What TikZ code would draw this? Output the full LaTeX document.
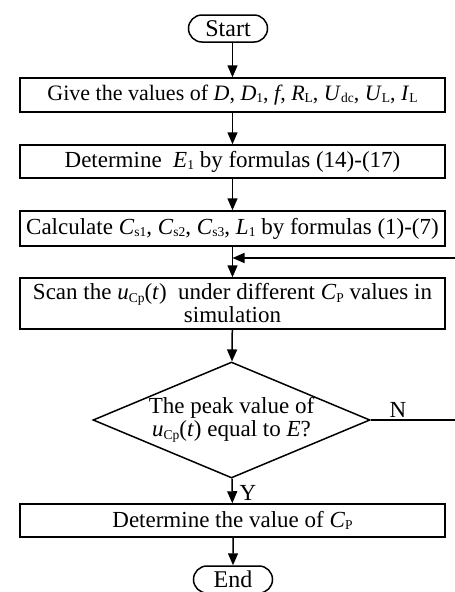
\documentclass[tikz,border=0pt]{standalone}
\usepackage{fontspec}
\setmainfont{Liberation Serif}
\usetikzlibrary{arrows.meta,shapes.misc,shapes.geometric}
\newcommand\sbs[1]{\raisebox{-0.25ex}{\fontsize{13.5}{14}\selectfont #1}}
\begin{document}
\begin{tikzpicture}[x=1pt,y=-1pt,
  every node/.style={font=\fontsize{23}{23}\selectfont},
  base/.style={draw, line width=1.5pt, inner sep=0pt, align=center},
  box/.style={base, rectangle, minimum width=425pt},
  term/.style={base, rounded rectangle, minimum width=79pt, minimum height=27pt, font=\fontsize{24}{24}\selectfont},
  decide/.style={base, diamond, shape aspect=2.4, minimum width=277pt, minimum height=116pt},
  flow/.style={line width=1.5pt, -{Triangle[length=12pt,width=10pt]}},
  lbl/.style={inner sep=0pt}]
\clip (0,0) rectangle (455,592);
\useasboundingbox (0,0) rectangle (455,592);
\node[term] (start) at (228,28.5) {Start};
\node[box, minimum height=34pt, font=\fontsize{22}{22}\selectfont] (b1) at (232.5,95) {Give the values of \textit{D}, \textit{D}\sbs{1}, \textit{f}, \textit{R}\sbs{L}, \textit{U}\sbs{dc}, \textit{U}\sbs{L}, \textit{I}\sbs{L}};
\node[box, minimum height=33pt] (b2) at (232.5,161.5) {Determine\ \ \textit{E}\sbs{1} by formulas (14)-(17)};
\node[box, minimum height=35pt] (b3) at (232.5,228.5) {Calculate \textit{C}\sbs{s1}, \textit{C}\sbs{s2}, \textit{C}\sbs{s3}, \textit{L}\sbs{1} by formulas (1)-(7)};
\node[box, minimum height=51pt] (b4) at (232.5,303.5) {Scan the \textit{u}\sbs{Cp}(\textit{t})\ \ under different \textit{C}\sbs{P} values in\\simulation};
\node[decide] (d) at (231.5,420) {The peak value of\\\textit{u}\sbs{Cp}(\textit{t}) equal to \textit{E}?};
\node[box, minimum height=33pt] (b5) at (232.5,520.5) {Determine the value of \textit{C}\sbs{P}};
\node[term] (end) at (233,579.5) {End};
\coordinate (fb) at (232.5,258);
\coordinate (c1) at (462,420);
\coordinate (c2) at (462,258);
\draw[flow] (start.south -| b1.north) -- (b1.north);
\draw[flow] (b1) -- (b2);
\draw[flow] (b2) -- (b3);
\draw[flow] (b3) -- (b4);
\draw[flow] (b4) -- (d);
\draw[flow] (d) -- (b5);
\draw[flow] (b5.south -| end.north) -- (end);
\draw[flow] (d.east) -- (c1) -- (c2) -- (fb);
\node[lbl] (n) at (398,410) {N};
\node[lbl] (y) at (248,493) {Y};
\end{tikzpicture}
\end{document}
